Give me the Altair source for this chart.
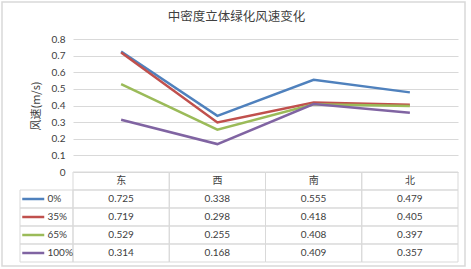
import altair as alt
import pandas as pd

cats = ["东", "西", "南", "北"]
series = ["0%", "35%", "65%", "100%"]
v0 = [0.725, 0.338, 0.555, 0.479]
v35 = [0.719, 0.298, 0.418, 0.405]
v65 = [0.529, 0.255, 0.408, 0.397]
v100 = [0.314, 0.168, 0.409, 0.357]
colors = ["#4F81BD", "#C0504D", "#9BBB59", "#8064A2"]
yticks = [0, 0.1, 0.2, 0.3, 0.4, 0.5, 0.6, 0.7, 0.8]

rows = ["hdr"] + series
vals = [v0, v35, v65, v100]
long = pd.DataFrame([
    {"series": s, "cat": c, "value": vals[i][j]}
    for i, s in enumerate(series) for j, c in enumerate(cats)
])
hdr = pd.DataFrame({"cat": cats, "row": ["hdr"] * len(cats)})
cells = pd.DataFrame([{"cat": c, "row": r} for r in rows for c in cats])
leg = pd.DataFrame({"series": series})

FONT = "Lato, Noto Sans CJK SC, sans-serif"
CJK = "Noto Sans CJK SC"
TXT = "#404040"
GRID = "#d9d9d9"
W, H = 385, 133
TBL_BOTTOM = 223

color_scale = alt.Scale(domain=series, range=colors)
xband = alt.Scale(type="band", domain=cats, range=[0, W], paddingInner=0, paddingOuter=0)
yrows = alt.Scale(type="band", domain=rows, range=[H, TBL_BOTTOM], paddingInner=0, paddingOuter=0)
ylegrows = alt.Scale(type="band", domain=series, range=[H + (TBL_BOTTOM - H) / 5, TBL_BOTTOM],
                     paddingInner=0, paddingOuter=0)
legcol = alt.Scale(type="band", domain=["sym", "lab"], range=[-53, 0], paddingInner=0, paddingOuter=0)
legcell = alt.Scale(type="band", domain=["legend"], range=[-53, 0], paddingInner=0, paddingOuter=0)

frame = alt.Chart(pd.DataFrame({"a": [0]})).mark_rect(
    fillOpacity=0, stroke=GRID, strokeWidth=1.5
).encode(x=alt.value(-71), x2=alt.value(392), y=alt.value(-37), y2=alt.value(227))

lines = alt.Chart(long).mark_line(strokeWidth=2.5).encode(
    x=alt.X("cat:N", scale=alt.Scale(type="point", domain=cats, padding=0.5, range=[0, W]), axis=None),
    y=alt.Y("value:Q", scale=alt.Scale(domain=[0, 0.8]),
            axis=alt.Axis(values=yticks, grid=True, gridColor=GRID, domain=False, ticks=False,
                          labelExpr="datum.value == 0 ? '0' : format(datum.value, '.1f')",
                          labelFont=FONT, labelFontSize=10, labelColor=TXT, labelPadding=8,
                          title="风速(m/s)", titleFont=CJK, titleFontSize=11, titleFontWeight="normal",
                          titleColor=TXT, titlePadding=10)),
    color=alt.Color("series:N", scale=color_scale, legend=None),
    detail="series:N",
)

grid_cells = alt.Chart(cells).mark_rect(fillOpacity=0, stroke=GRID, strokeWidth=1).encode(
    x=alt.X("cat:N", scale=xband, axis=None),
    y=alt.Y("row:N", scale=yrows, axis=None),
)

leg_cells = alt.Chart(leg).transform_calculate(col="'legend'").mark_rect(
    fillOpacity=0, stroke=GRID, strokeWidth=1
).encode(
    x=alt.X("col:N", scale=legcell, axis=None),
    y=alt.Y("series:N", scale=ylegrows, axis=None),
)

hdr_text = alt.Chart(hdr).mark_text(font=CJK, fontSize=10, color=TXT, baseline="middle").encode(
    x=alt.X("cat:N", scale=xband, axis=None),
    y=alt.Y("row:N", scale=yrows, axis=None),
    text="cat:N",
)

val_text = alt.Chart(long).mark_text(font=FONT, fontSize=10, color=TXT, baseline="middle").encode(
    x=alt.X("cat:N", scale=xband, axis=None),
    y=alt.Y("series:N", scale=yrows, axis=None),
    text=alt.Text("value:Q", format=".3f"),
)

leg_sym = alt.Chart(leg).transform_calculate(col="'sym'").mark_point(
    shape="stroke", size=484, strokeWidth=2.5, opacity=1
).encode(
    x=alt.X("col:N", scale=legcol, axis=None),
    y=alt.Y("series:N", scale=ylegrows, axis=None),
    color=alt.Color("series:N", scale=color_scale, legend=None),
)

leg_lab = alt.Chart(leg).transform_calculate(col="'lab'").mark_text(
    font=FONT, fontSize=10, color=TXT, align="left", baseline="middle", dx=1
).encode(
    x=alt.X("col:N", scale=legcol, axis=None, bandPosition=0),
    y=alt.Y("series:N", scale=ylegrows, axis=None),
    text="series:N",
)

chart = alt.layer(
    lines, frame, grid_cells, leg_cells, hdr_text, val_text, leg_sym, leg_lab
).resolve_scale(x="independent", y="independent").properties(
    width=W, height=H,
    autosize=alt.AutoSizeParams(type="none"),
    padding={"left": 73, "top": 39, "right": 13, "bottom": 97},
    background="white",
    title=alt.TitleParams("中密度立体绿化风速变化", font=CJK, fontSize=12.5, fontWeight="normal",
                          color=TXT, anchor="middle", dx=-29, offset=-22),
).configure_view(stroke=None)

chart.save("out.html", embed_options={"renderer": "svg", "actions": False})
